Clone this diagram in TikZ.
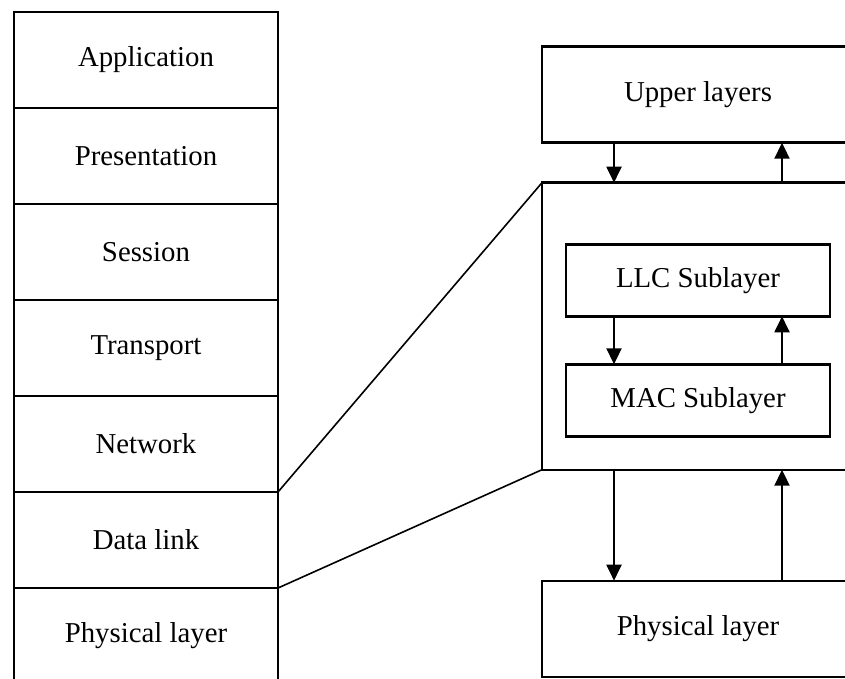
\documentclass[tikz,border=0pt]{standalone}
\usepackage{fontspec}
\setmainfont{Liberation Serif}
\usepackage{tikz}
\usetikzlibrary{positioning,arrows.meta}
\tikzset{
  layer/.style   ={rectangle, draw=black, line width=1.2pt, minimum width=132pt,
                   minimum height=48pt, inner sep=0pt, outer sep=0pt,
                   anchor=north west, align=center,
                   font=\fontsize{14.4}{17}\selectfont},
  sublayer/.style={layer, minimum height=36pt},
  bigbox/.style  ={layer, minimum width=156pt},
  arr/.style     ={-{Triangle[length=8pt, width=7.5pt]}, line width=1pt},
  zoomln/.style  ={line width=0.8pt},
}

\begin{document}
\begin{tikzpicture}[x=0.5pt, y=-0.5pt]
  \useasboundingbox (0,0) rectangle (845,679);
  % the seven layers
  \node[layer] (app)   at (14,12)            {Application};
  \node[layer] (pres)  at (app.south west)   {Presentation};
  \node[layer] (sess)  at (pres.south west)  {Session};
  \node[layer] (trans) at (sess.south west)  {Transport};
  \node[layer] (netw)  at (trans.south west) {Network};
  \node[layer] (dlink) at (netw.south west)  {Data link};
  \node[layer] (phys)  at (dlink.south west) {Physical layer};
  % data link layer opened up
  \node[bigbox] (upper) at (542,46.7)  {Upper layers};
  \node[bigbox, minimum height=143.5pt] (dll) at (542,182.7) {};
  \node[sublayer] (llc) at (566,244.3) {LLC Sublayer};
  \node[sublayer] (mac) at (566,364.3) {MAC Sublayer};
  \node[bigbox] (physr) at (542,580.7) {Physical layer};
  \draw[zoomln] (dlink.north east) -- (dll.north west);
  \draw[zoomln] (dlink.south east) -- (dll.south west);
  \draw[arr] ([xshift=-42pt]upper.south) -- ([xshift=-42pt]dll.north);
  \draw[arr] ([xshift=42pt]dll.north)    -- ([xshift=42pt]upper.south);
  \draw[arr] ([xshift=-42pt]llc.south)   -- ([xshift=-42pt]mac.north);
  \draw[arr] ([xshift=42pt]mac.north)    -- ([xshift=42pt]llc.south);
  \draw[arr] ([xshift=-42pt]dll.south)   -- ([xshift=-42pt]physr.north);
  \draw[arr] ([xshift=42pt]physr.north)  -- ([xshift=42pt]dll.south);
\end{tikzpicture}
\end{document}
